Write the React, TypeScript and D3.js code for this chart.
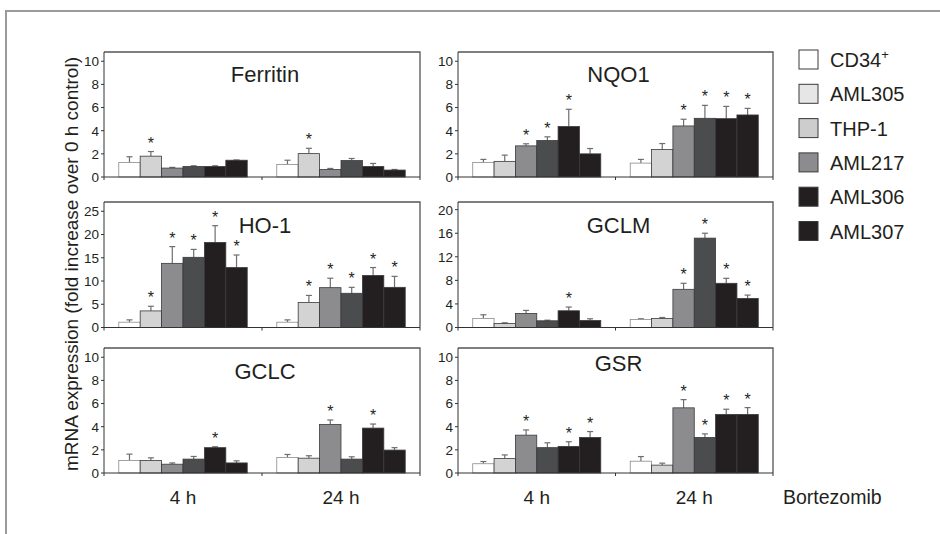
import React from 'react';
import * as d3 from 'd3';

const groups = ['4 h', '24 h'];
const cellLines = ['CD34+', 'AML305', 'THP-1', 'AML217', 'AML306', 'AML307'];

// fold increase over 0 h control, per time point [4 h, 24 h], one value per cell line
const ferritinMean = [[1.25, 1.8, 0.77, 0.91, 0.91, 1.45], [1.08, 2.02, 0.65, 1.42, 0.91, 0.6]];
const ferritinSd = [[0.5, 0.4, 0.06, 0.06, 0.06, 0.02], [0.37, 0.46, 0.09, 0.18, 0.26, 0.05]];
const ferritinSig = [[0, 1, 0, 0, 0, 0], [0, 1, 0, 0, 0, 0]];

const nqo1Mean = [[1.26, 1.35, 2.69, 3.15, 4.36, 2.0], [1.2, 2.38, 4.41, 5.07, 5.04, 5.36]];
const nqo1Sd = [[0.26, 0.54, 0.18, 0.32, 1.49, 0.46], [0.32, 0.51, 0.58, 1.12, 1.06, 0.57]];
const nqo1Sig = [[0, 0, 1, 1, 1, 0], [0, 0, 1, 1, 1, 1]];

const ho1Mean = [[1.14, 3.57, 13.8, 15.1, 18.3, 12.9], [1.14, 5.36, 8.57, 7.36, 11.2, 8.64]];
const ho1Sd = [[0.5, 1.0, 3.6, 1.7, 3.6, 2.7], [0.5, 1.54, 2.03, 1.28, 1.7, 2.36]];
const ho1Sig = [[0, 1, 1, 1, 1, 1], [0, 1, 1, 1, 1, 1]];

const gclmMean = [[1.53, 0.68, 2.39, 1.14, 2.84, 1.19], [1.36, 1.53, 6.48, 15.17, 7.5, 4.94]];
const gclmSd = [[0.63, 0.12, 0.51, 0.1, 0.63, 0.29], [0.12, 0.17, 1.02, 0.83, 0.85, 0.56]];
const gclmSig = [[0, 0, 0, 0, 1, 0], [0, 0, 1, 1, 1, 1]];

const gclcMean = [[1.08, 1.08, 0.76, 1.2, 2.19, 0.87], [1.34, 1.28, 4.2, 1.2, 3.88, 1.98]];
const gclcSd = [[0.55, 0.23, 0.11, 0.23, 0.08, 0.18], [0.26, 0.21, 0.38, 0.2, 0.35, 0.21]];
const gclcSig = [[0, 0, 0, 0, 1, 0], [0, 0, 1, 0, 1, 0]];

const gsrMean = [[0.8, 1.25, 3.27, 2.19, 2.3, 3.07], [1.02, 0.68, 5.63, 3.07, 5.06, 5.06]];
const gsrSd = [[0.19, 0.31, 0.45, 0.42, 0.4, 0.51], [0.4, 0.17, 0.71, 0.31, 0.45, 0.59]];
const gsrSig = [[0, 0, 1, 0, 1, 1], [0, 0, 1, 1, 1, 1]];

const ticks10 = [0, 2, 4, 6, 8, 10];
const ticks25 = [0, 5, 10, 15, 20, 25];
const ticks20 = [0, 4, 8, 12, 16, 20];

const barColors = ['#ffffff', '#d3d3d3', '#8c8c8e', '#4b4c4e', '#231f20', '#231f20'];
const legendColors = ['#ffffff', '#e6e6e6', '#cdcdcd', '#8c8c8e', '#231f20', '#231f20'];

const cols = [[104, 420], [458, 773]];
const rows = [[52, 177], [202, 327.5], [348, 473]];

const panels = [
  {gene: 'Ferritin', mean: ferritinMean, sd: ferritinSd, sig: ferritinSig, max: 10.8, ticks: ticks10, col: 0, row: 0, ty: 30},
  {gene: 'NQO1', mean: nqo1Mean, sd: nqo1Sd, sig: nqo1Sig, max: 10.8, ticks: ticks10, col: 1, row: 0, ty: 30},
  {gene: 'HO-1', mean: ho1Mean, sd: ho1Sd, sig: ho1Sig, max: 27, ticks: ticks25, col: 0, row: 1, ty: 31},
  {gene: 'GCLM', mean: gclmMean, sd: gclmSd, sig: gclmSig, max: 21.3, ticks: ticks20, col: 1, row: 1, ty: 31},
  {gene: 'GCLC', mean: gclcMean, sd: gclcSd, sig: gclcSig, max: 10.8, ticks: ticks10, col: 0, row: 2, ty: 31},
  {gene: 'GSR', mean: gsrMean, sd: gsrSd, sig: gsrSig, max: 10.8, ticks: ticks10, col: 1, row: 2, ty: 23},
];

function Panel({p}) {
  const [x0, x1] = cols[p.col];
  const [top, bottom] = rows[p.row];
  const w = x1 - x0;
  const h = bottom - top;

  const xGroup = d3.scaleBand().domain(groups).range([0, w]).paddingInner(0.187).paddingOuter(0.0935);
  const xBar = d3.scaleBand().domain(cellLines).range([0, xGroup.bandwidth()]);
  const y = d3.scaleLinear().domain([0, p.max]).range([h, 0]);

  return (
    <g transform={`translate(${x0},${top})`}>
      {groups.map((g, gi) => (
        <g key={g} transform={`translate(${xGroup(g)},0)`}>
          {cellLines.map((c, ci) => {
            const v = p.mean[gi][ci];
            const e = v + p.sd[gi][ci];
            const bx = xBar(c);
            const cx = bx + xBar.bandwidth() / 2;
            return (
              <g key={c}>
                <line x1={cx} x2={cx} y1={y(v)} y2={y(e)} stroke="#6e6e6e" strokeWidth={1.2} />
                <line x1={cx - 3} x2={cx + 3} y1={y(e)} y2={y(e)} stroke="#6e6e6e" strokeWidth={1.2} />
                <rect x={bx} y={y(v)} width={xBar.bandwidth()} height={h - y(v)}
                  fill={barColors[ci]} stroke={ci === 0 ? '#8a8a8a' : '#3a3a3a'} strokeWidth={0.8} />
                {p.sig[gi][ci] ? (
                  <text x={cx} y={y(e) - 3} textAnchor="middle" fontSize={16} fill="#231f20">*</text>
                ) : null}
              </g>
            );
          })}
        </g>
      ))}
      <path d={`M0,0H${w}V${h}`} fill="none" stroke="#555" strokeWidth={1.3} />
      <line x1={0} x2={w} y1={h} y2={h} stroke="#333" strokeWidth={1} />
      <line x1={0} x2={0} y1={0} y2={h} stroke="#333" strokeWidth={1} />
      {[0, w / 2, w].map(t => (
        <line key={t} x1={t} x2={t} y1={h} y2={h + 3} stroke="#333" />
      ))}
      {p.ticks.map(t => (
        <g key={t} transform={`translate(0,${y(t)})`}>
          <line x1={-3} x2={0} stroke="#333" />
          <text x={-5} dy="0.36em" textAnchor="end" fontSize={13.5} fill="#231f20">{t}</text>
        </g>
      ))}
      <text x={w / 2 + 3} y={p.ty} textAnchor="middle" fontSize={22} fill="#231f20">{p.gene}</text>
    </g>
  );
}

export default function App() {
  const labelY = 504;
  return (
    <svg width={940} height={534} style={{position: 'absolute', left: 0, top: 0, background: '#fff'}}
      fontFamily="'Liberation Sans', Arial, sans-serif">
      <path d="M6,534V11H940" fill="none" stroke="#9a9a9a" strokeWidth={2} />
      {panels.map(p => <Panel key={p.gene} p={p} />)}

      <text transform="translate(78,264) rotate(-90)" textAnchor="middle" fontSize={19} fill="#231f20">
        mRNA expression (fold increase over 0 h control)
      </text>

      {cols.map(([a, b], i) => {
        const xg = d3.scaleBand().domain(groups).range([a, b]).paddingInner(0.187).paddingOuter(0.0935);
        return groups.map(g => (
          <text key={i + g} x={xg(g) + xg.bandwidth() / 2} y={labelY} textAnchor="middle" fontSize={19} fill="#231f20">{g}</text>
        ));
      })}
      <text x={783} y={labelY} fontSize={19.5} fill="#231f20">Bortezomib</text>

      {cellLines.map((c, i) => (
        <g key={c} transform={`translate(799,${50 + i * 34.3})`}>
          <rect width={19} height={19} fill={legendColors[i]} stroke="#3a3a3a" strokeWidth={1} />
          <text x={31} y={17} fontSize={20} fill="#231f20">
            {c === 'CD34+' ? <>CD34<tspan fontSize={13} dy={-8}>+</tspan></> : c}
          </text>
        </g>
      ))}
    </svg>
  );
}
